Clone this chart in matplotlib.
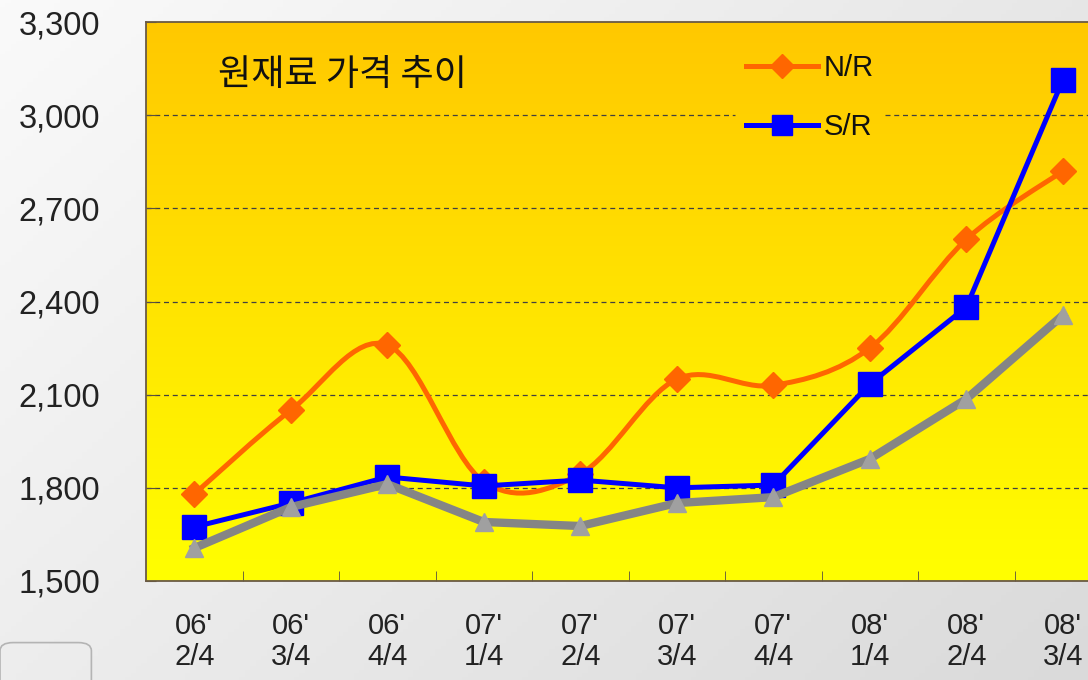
import matplotlib
matplotlib.use("Agg")
import matplotlib.pyplot as plt
import numpy as np
from matplotlib.path import Path
from matplotlib.patches import PathPatch, FancyBboxPatch
from matplotlib.lines import Line2D
from matplotlib.colors import LinearSegmentedColormap

# data
quarters = ["06'\n2/4", "06'\n3/4", "06'\n4/4", "07'\n1/4", "07'\n2/4",
            "07'\n3/4", "07'\n4/4", "08'\n1/4", "08'\n2/4", "08'\n3/4"]
nr_price = [1780, 2050, 2260, 1820, 1845, 2150, 2130, 2250, 2600, 2820]
sr_price = [1674, 1751, 1835, 1806, 1825, 1800, 1809, 2134, 2382, 3113]
gray_price = [1606, 1738, 1812, 1690, 1677, 1751, 1770, 1893, 2086, 2356]
yticks = [1500, 1800, 2100, 2400, 2700, 3000, 3300]
title = "원재료 가격 추이"

num_font = "Liberation Sans"
kr_font = ["Noto Sans CJK KR", "DejaVu Sans"]

fig = plt.figure(figsize=(10.88, 6.8), dpi=100)

# light grey page background
bg = fig.add_axes([0, 0, 1, 1], zorder=-10)
gx, gy = np.meshgrid(np.linspace(0, 1, 200), np.linspace(0, 1, 200))
bg.imshow(0.6 * gx + 0.4 * gy, cmap=LinearSegmentedColormap.from_list("pg", ["#FAFAFA", "#DADADA"]),
          extent=[0, 1, 0, 1], aspect="auto")
bg.set_xlim(0, 1)
bg.set_ylim(0, 1)
bg.axis("off")
bg.add_patch(FancyBboxPatch((0.0, -0.05), 0.084, 0.105, boxstyle="round,pad=0,rounding_size=0.012",
                            fc="none", ec="#B4B4B4", lw=1.2, transform=bg.transAxes))

ax = fig.add_axes([0.1342, 0.1456, 0.887, 0.822])
x = np.arange(len(quarters))
ax.set_xlim(-0.5, len(quarters) - 0.5)
ax.set_ylim(yticks[0], yticks[-1])

# orange -> yellow plot area
ax.imshow(np.linspace(0, 1, 256).reshape(-1, 1),
          cmap=LinearSegmentedColormap.from_list("yo", ["#FFC800", "#FFFF00"]),
          extent=[-0.5, len(quarters) - 0.5, yticks[0], yticks[-1]], aspect="auto", zorder=0)

# smoothed N/R line (excel style bezier)
pts = np.column_stack([x, nr_price]).astype(float)
verts = [tuple(pts[0])]
codes = [Path.MOVETO]
for i in range(len(pts) - 1):
    p0 = pts[max(i - 1, 0)]
    p1 = pts[i]
    p2 = pts[i + 1]
    p3 = pts[min(i + 2, len(pts) - 1)]
    verts += [tuple(p1 + (p2 - p0) / 6), tuple(p2 - (p3 - p1) / 6), tuple(p2)]
    codes += [Path.CURVE4] * 3
ax.add_patch(PathPatch(Path(verts, codes), fc="none", ec="#FF6600", lw=3.6, zorder=2,
                       capstyle="round", joinstyle="round"))
ax.plot(x, nr_price, ls="none", marker="D", ms=13, color="#FF6600", mec="#FF6600", zorder=3)

ax.plot(x, sr_price, color="#0000FF", lw=3.6, marker="s", ms=17, mec="#0000FF", zorder=4)
ax.plot(x, gray_price, color="#858585", lw=6, zorder=5, solid_joinstyle="round")
ax.plot(x, gray_price, ls="none", marker="^", ms=13, color="#A0A0A0", mec="#A0A0A0", zorder=6)

ax.set_yticks(yticks)
ax.set_yticklabels([f"{v:,}" for v in yticks], fontsize=23.5, family=num_font, color="#222222")
ax.set_xticks(x)
ax.set_xticklabels(quarters, fontsize=21, family=num_font, color="#222222", linespacing=1.15)
ax.set_xticks(np.arange(0.5, len(quarters) - 0.5, 1), minor=True)
ax.tick_params(axis="y", direction="in", length=7, color="#5A5040", pad=33)
ax.tick_params(axis="x", which="major", length=0, pad=22)
ax.tick_params(axis="x", which="minor", direction="in", length=7, color="#5A5040")
for side in ["left", "bottom", "top", "right"]:
    ax.spines[side].set_color("#6A5A44")
    ax.spines[side].set_linewidth(1.3)

ax.text(0.075, 0.905, title, transform=ax.transAxes, fontsize=26, family=kr_font,
        va="center", ha="left", color="#111111")

handles = [Line2D([], [], color="#FF6600", lw=3.6, marker="D", ms=12, mec="#FF6600", label="N/R"),
           Line2D([], [], color="#0000FF", lw=3.6, marker="s", ms=15, mec="#0000FF", label="S/R")]
leg = ax.legend(handles=handles, loc="upper left", bbox_to_anchor=(720 / 1088, 1 - 28 / 680),
                bbox_transform=fig.transFigure, frameon=False, fontsize=21, handlelength=2.45,
                handletextpad=0.2, labelspacing=1.05, borderpad=0.4)
for t in leg.get_texts():
    t.set_family(num_font)
    t.set_color("#111111")

# dashed grid, broken where the legend sits
fig.canvas.draw()
lb = leg.get_window_extent().transformed(ax.transData.inverted())
lx0 = ax.transLimits.transform((lb.x0, 0))[0]
lx1 = ax.transLimits.transform((lb.x1, 0))[0]
for yv in yticks[1:-1]:
    if lb.y0 < yv < lb.y1:
        ax.axhline(yv, xmax=lx0, color="#404040", lw=0.9, ls=(0, (4, 3)), zorder=1)
        ax.axhline(yv, xmin=lx1, color="#404040", lw=0.9, ls=(0, (4, 3)), zorder=1)
    else:
        ax.axhline(yv, color="#404040", lw=0.9, ls=(0, (4, 3)), zorder=1)

fig.savefig("out.png", dpi=100)
